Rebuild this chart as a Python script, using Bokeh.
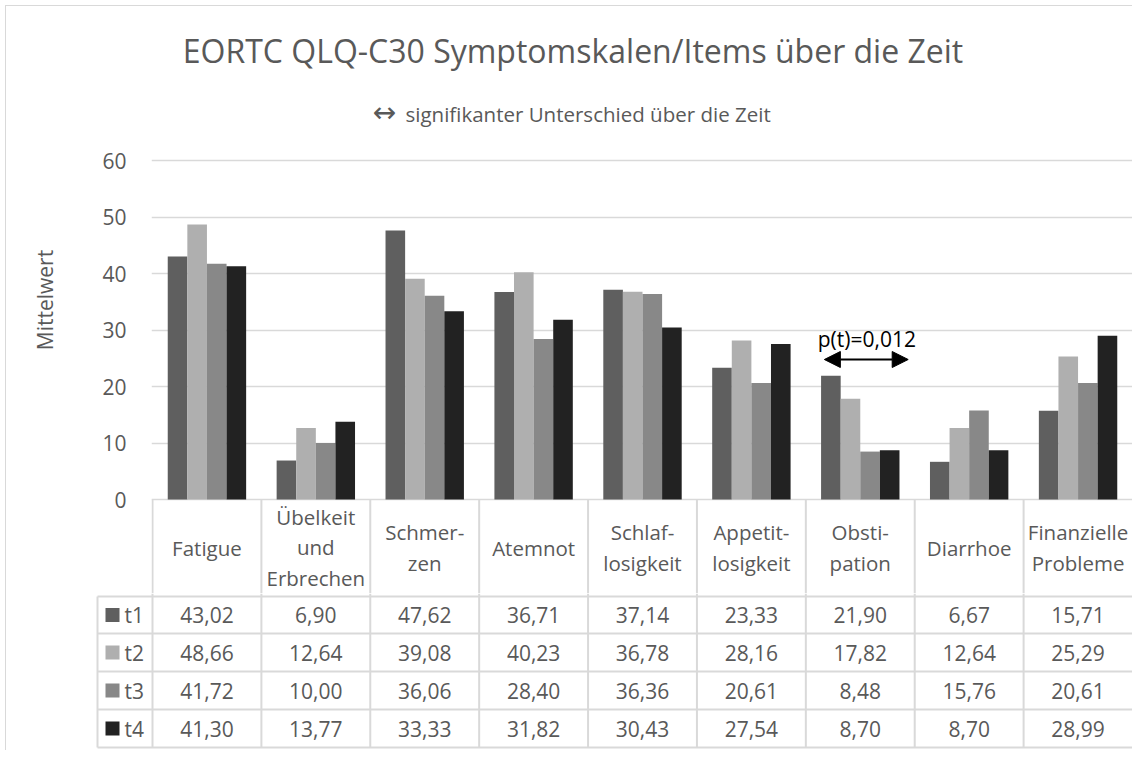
from bokeh.plotting import figure
from bokeh.models import Range1d, FixedTicker, Label, Arrow, NormalHead, ColumnDataSource
from bokeh.layouts import column
from bokeh.core.properties import value
from bokeh.embed import file_html
from bokeh.resources import INLINE

# ---------------- data ----------------
categories = ["Fatigue", "Übelkeit\nund\nErbrechen", "Schmer-\nzen", "Atemnot",
              "Schlaf-\nlosigkeit", "Appetit-\nlosigkeit", "Obsti-\npation",
              "Diarrhoe", "Finanzielle\nProbleme"]
series_names = ["t1", "t2", "t3", "t4"]
t1 = [43.02, 6.90, 47.62, 36.71, 37.14, 23.33, 21.90, 6.67, 15.71]
t2 = [48.66, 12.64, 39.08, 40.23, 36.78, 28.16, 17.82, 12.64, 25.29]
t3 = [41.72, 10.00, 36.06, 28.40, 36.36, 20.61, 8.48, 15.76, 20.61]
t4 = [41.30, 13.77, 33.33, 31.82, 30.43, 27.54, 8.70, 8.70, 28.99]
series = [t1, t2, t3, t4]
y_ticks = [0, 10, 20, 30, 40, 50, 60]
title_text = "EORTC QLQ-C30 Symptomskalen/Items über die Zeit"
subtitle_arrow = "\u2194"
subtitle_text = "signifikanter Unterschied über die Zeit"
y_label = "Mittelwert"
sig_category = "Obsti-\npation"
sig_text = "p(t)=0,012"

# ---------------- style ----------------
colors = ["#5f5f5f", "#afafaf", "#888888", "#222222"]
FONT = "Open Sans"
TXT = "#595959"
GRID = "#d9d9d9"
PX = 5.65          # pixels per data unit (y)
W = 1126           # canvas width
OX, OY = 6, 6      # canvas origin on the page
n = len(categories)
bar_w = 0.18
COLW = (W - (152 - OX)) / n   # px per category

# ---------------- chart (title, bars, table header row) ----------------
CH_BOTTOM = 593
CH_H = CH_BOTTOM - OY

def sy_to_data(sy):
    return (500 - sy) / PX - 1 / PX

top = figure(width=W, height=CH_H, x_range=Range1d(-1 / COLW, n),
             y_range=Range1d(sy_to_data(CH_BOTTOM), sy_to_data(OY)),
             output_backend="svg", toolbar_location=None, title=None,
             x_axis_location=None, min_border_left=152 - OX - 1, min_border_right=0,
             min_border_top=0, min_border_bottom=0, outline_line_color=None,
             frame_align=False)

top.yaxis.ticker = FixedTicker(ticks=y_ticks)
top.yaxis.axis_line_color = None
top.yaxis.major_tick_line_color = None
top.yaxis.minor_tick_line_color = None
top.yaxis.major_label_text_font = FONT
top.yaxis.major_label_text_font_size = "21px"
top.yaxis.major_label_text_color = TXT
top.yaxis.major_label_standoff = 19
top.yaxis.axis_label = y_label
top.yaxis.axis_label_text_font = FONT
top.yaxis.axis_label_text_font_size = "21px"
top.yaxis.axis_label_text_font_style = "normal"
top.yaxis.axis_label_text_color = TXT
top.yaxis.axis_label_standoff = 40
top.ygrid.ticker = FixedTicker(ticks=y_ticks)
top.ygrid.grid_line_color = GRID
top.ygrid.grid_line_width = 1.5
top.xgrid.grid_line_color = None

for j, vals in enumerate(series):
    xs = [i + 0.5 + (j - 1.5) * bar_w for i in range(n)]
    src = ColumnDataSource(dict(x=xs, top=vals))
    top.vbar(x="x", top="top", bottom=0, width=bar_w, source=src,
             fill_color=colors[j], line_color=None)

# title and subtitle
top.add_layout(Label(x=(572.5 - 152) / COLW, y=sy_to_data(50), text=title_text,
                     text_align="center", text_baseline="middle",
                     text_font=FONT, text_font_size="32px", text_color=TXT))
top.add_layout(Label(x=(384 - 152) / COLW, y=sy_to_data(112), text=subtitle_arrow,
                     text_align="center", text_baseline="middle",
                     text_font="DejaVu Sans", text_font_size="28px", text_color=TXT))
top.add_layout(Label(x=(405 - 152) / COLW, y=sy_to_data(113), text=subtitle_text,
                     text_align="left", text_baseline="middle",
                     text_font=FONT, text_font_size="20.5px", text_color=TXT))

# significance annotation
k = categories.index(sig_category)
top.add_layout(Arrow(start=NormalHead(size=16, fill_color="black", line_color="black"),
                     end=NormalHead(size=16, fill_color="black", line_color="black"),
                     x_start=k + 0.17, x_end=k + 0.94, y_start=sy_to_data(359),
                     y_end=sy_to_data(359), line_color="black", line_width=2))
top.add_layout(Label(x=k + 0.56, y=sy_to_data(338), text=sig_text,
                     text_align="center", text_baseline="middle",
                     text_font=FONT, text_font_size="21px", text_color="black"))

# table header row (category names) below the zero line
y_bottom = sy_to_data(CH_BOTTOM)
top.segment(x0=list(range(n)), x1=list(range(n)), y0=[0] * n, y1=[y_bottom] * n,
            line_color=GRID, line_width=2)
top.text(x=[i + 0.5 for i in range(n)], y=[sy_to_data(547)] * n, text=categories,
         text_align="center", text_baseline="middle", text_font=value(FONT),
         text_font_size="20.5px", text_color=TXT, text_line_height=1.1)

# ---------------- data table rows ----------------
TB_TOP = CH_BOTTOM
TB_H = 750 - TB_TOP
TB_LEFT = 95 - OX
legend_w = (152 - 97) / COLW
x0 = -(W - TB_LEFT) / COLW + n
tbl = figure(width=W, height=TB_H, x_range=Range1d(x0, n),
             y_range=Range1d(250, TB_TOP - 500), output_backend="svg",
             toolbar_location=None, title=None, x_axis_location=None,
             y_axis_location=None, min_border_left=TB_LEFT, min_border_right=0,
             min_border_top=0, min_border_bottom=0, outline_line_color=None,
             frame_align=False)
tbl.grid.visible = False

row_lines = [96, 133, 171, 209, 247]
row_centers = [114.5, 152, 190, 228]

tbl.segment(x0=[-legend_w] * len(row_lines), x1=[n] * len(row_lines),
            y0=row_lines, y1=row_lines, line_color=GRID, line_width=2)
tbl.segment(x0=list(range(n)), x1=list(range(n)), y0=[TB_TOP - 500] * n,
            y1=[247] * n, line_color=GRID, line_width=2)
tbl.segment(x0=[-legend_w], x1=[-legend_w], y0=[96], y1=[247],
            line_color=GRID, line_width=2)

for j, vals in enumerate(series):
    tbl.text(x=[i + 0.5 for i in range(n)], y=[row_centers[j]] * n,
             text=[f"{v:.2f}".replace(".", ",") for v in vals],
             text_align="center", text_baseline="middle", text_font=value(FONT),
             text_font_size="21px", text_color=TXT)

tbl.rect(x=[-legend_w + 15 / COLW] * 4, y=row_centers, width=14, height=14,
         width_units="screen", height_units="screen", fill_color=colors, line_color=None)
tbl.text(x=[-legend_w + 27 / COLW] * 4, y=row_centers, text=series_names,
         text_align="left", text_baseline="middle", text_font=value(FONT),
         text_font_size="21px", text_color=TXT)

layout = column(top, tbl, styles={"margin-left": "5px", "margin-top": "5px",
                                  "border-top": "1px solid #d9d9d9",
                                  "border-left": "1px solid #d9d9d9"})

open("out.html", "w").write(file_html(layout, INLINE))
